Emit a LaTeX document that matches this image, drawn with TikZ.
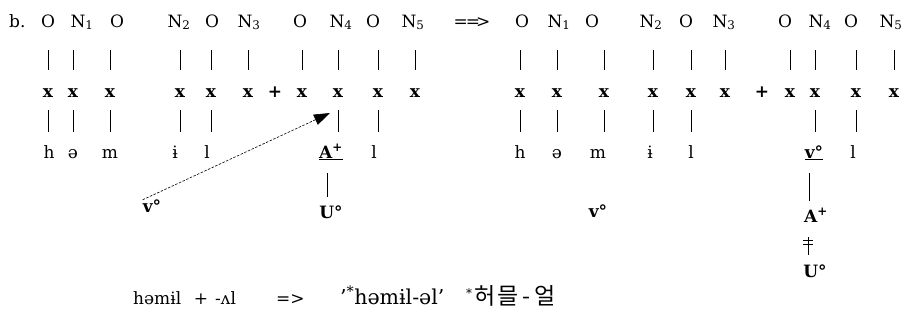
\documentclass[tikz,border=0pt]{standalone}
\usepackage{fontspec}
\setmainfont{DejaVu Serif}
\newfontfamily\krfont{Noto Sans CJK KR}
\usetikzlibrary{arrows.meta,decorations.markings}
\newcommand{\tsize}{\fontsize{17}{21}\selectfont}
\tikzset{
  skel/.style  ={inner sep=0pt, anchor=base, text height=12pt, text depth=0pt},
  slot/.style  ={inner sep=0pt, anchor=base, text height=8pt, text depth=0pt, font=\tsize\bfseries},
  seg/.style   ={inner sep=0pt, anchor=base, text height=12pt, text depth=0pt},
  elem/.style  ={seg, font=\tsize\bfseries},
  ubar/.style  ={line width=0.9pt, shorten <=23pt, shorten >=19pt},
  lbar/.style  ={line width=0.9pt, shorten <=13pt, shorten >=14pt},
  mbar/.style  ={line width=0.9pt, shorten <=15pt, shorten >=9pt},
  spread/.style={-{Triangle[length=16pt,width=11pt]}, line width=0.6pt,
                 dash pattern=on 2.5pt off 1.5pt},
  delink/.style={line width=0.9pt, postaction=decorate,
                 decoration={markings,
                   mark=at position 3.5pt with {\draw[line width=0.8pt] (0,-5pt) -- (0,5pt);},
                   mark=at position 7.5pt with {\draw[line width=0.8pt] (0,-5pt) -- (0,5pt);}}},
}

\begin{document}
\begin{tikzpicture}[x=1pt, y=-1pt, font=\tsize]
\useasboundingbox (0,0) rectangle (907,322);

% left representation
\node[anchor=base west, inner sep=0pt] (lbl) at (9,27) {b.};
\node[skel] (ls1) at (48,27) {O};
\node[skel] (ls2) at (82,27) {N\textsubscript{1}};
\node[skel] (ls3) at (117,27) {O};
\node[skel] (ls4) at (179,27) {N\textsubscript{2}};
\node[skel] (ls5) at (212,27) {O};
\node[skel] (ls6) at (249,27) {N\textsubscript{3}};
\node[skel] (ls7) at (300,27) {O};
\node[skel] (ls8) at (341,27) {N\textsubscript{4}};
\node[skel] (ls9) at (373,27) {O};
\node[skel] (ls10) at (413,27) {N\textsubscript{5}};

\node[slot] (lx1) at (48,97) {x};
\node[slot] (lx2) at (73,97) {x};
\node[slot] (lx3) at (110,97) {x};
\node[slot] (lx4) at (180,97) {x};
\node[slot] (lx5) at (211,97) {x};
\node[slot] (lx6) at (248,97) {x};
\node[slot] (lplus) at (275,97) {+};
\node[slot] (lx7) at (302,97) {x};
\node[slot] (lx8) at (338,97) {x};
\node[slot] (lx9) at (378,97) {x};
\node[slot] (lx10) at (415,97) {x};

\node[seg] (lh) at (49,158) {h};
\node[seg] (le) at (73,158) {ə};
\node[seg] (lm) at (110,158) {m};
\node[seg] (li) at (175,158) {ɨ};
\node[seg] (ll) at (207,158) {l};
\node[elem] (lA) at (331,158) {\underline{A\textsuperscript{+}}};
\node[seg] (lL) at (374,158) {l};

\node[elem] (lv) at (152,212) {v°};
\node[elem] (lU) at (331,218) {U°};

% right representation
\node[skel] (arr) at (472,27) {=\kern-2pt=\kern-4pt>};

\node[skel] (rs1) at (522,27) {O};
\node[skel] (rs2) at (559,27) {N\textsubscript{1}};
\node[skel] (rs3) at (592,27) {O};
\node[skel] (rs4) at (651,27) {N\textsubscript{2}};
\node[skel] (rs5) at (686,27) {O};
\node[skel] (rs6) at (724,27) {N\textsubscript{3}};
\node[skel] (rs7) at (785,27) {O};
\node[skel] (rs8) at (820,27) {N\textsubscript{4}};
\node[skel] (rs9) at (851,27) {O};
\node[skel] (rs10) at (891,27) {N\textsubscript{5}};

\node[slot] (rx1) at (520,97) {x};
\node[slot] (rx2) at (557,97) {x};
\node[slot] (rx3) at (604,97) {x};
\node[slot] (rx4) at (653,97) {x};
\node[slot] (rx5) at (691,97) {x};
\node[slot] (rx6) at (725,97) {x};
\node[slot] (rplus) at (762,97) {+};
\node[slot] (rx7) at (790,97) {x};
\node[slot] (rx8) at (815,97) {x};
\node[slot] (rx9) at (856,97) {x};
\node[slot] (rx10) at (894,97) {x};

\node[seg] (rh) at (520,158) {h};
\node[seg] (re) at (557,158) {ə};
\node[seg] (rm) at (598,158) {m};
\node[seg] (ri) at (650,158) {ɨ};
\node[seg] (rl) at (691,158) {l};
\node[elem] (rv) at (814,158) {\underline{v°}};
\node[seg] (rL) at (853,158) {l};

\node[elem] (rvm) at (598,217) {v°};
\node[elem] (rA) at (816,222) {A\textsuperscript{+}};
\node[elem] (rU) at (815,277) {U°};

% association lines
\foreach \i in {1,...,10} {
  \draw[ubar] (lx\i |- ls\i.south) -- (lx\i.north);
  \draw[ubar] (rx\i |- rs\i.south) -- (rx\i.north);
}
\foreach \c/\s in {1/lh,2/le,3/lm,4/li,5/ll,8/lA,9/lL} {
  \draw[lbar] (lx\c.south) -- (lx\c |- \s.north);
}
\foreach \c/\s in {1/rh,2/re,3/rm,4/ri,5/rl,8/rv,9/rL} {
  \draw[lbar] (rx\c.south) -- (rx\c |- \s.north);
}

\draw[mbar] ([xshift=8pt]lA.south west) -- ([xshift=8pt]lA.south west |- lU.north);
\draw[mbar] ([xshift=5pt]rv.south west) -- ([xshift=5pt]rv.south west |- rA.north);

\coordinate (dtop) at ([xshift=4pt,yshift=-15pt]rA.south west);
\coordinate (dbot) at (dtop |- rU.north);
\draw[delink] (dtop) -- ([yshift=10pt]dbot);

\coordinate (tipA) at (330,113);
\draw[spread] (lv.north west) -- (tipA);

% bottom line
\node[anchor=base west, inner sep=0pt] (bstem) at (133,304) {həmɨl};
\node[anchor=base, inner sep=0pt] (bplus) at (201,304) {+};
\node[anchor=base west, inner sep=0pt] (bsuf) at (215,304) {-ʌl};
\node[anchor=base west, inner sep=0pt] (barr) at (276,304) {=>};
\node[anchor=base west, inner sep=0pt, font=\fontsize{20.5}{24}\selectfont] (bform) at (340,304)
  {’\textsuperscript{*}həmɨl-əl’};
\node[anchor=base west, inner sep=0pt] (bkor) at (466,304)
  {\textsuperscript{*}{\krfont\fontsize{23}{26}\selectfont\kern2pt 허\kern2pt 믈\kern4pt-\kern4pt 얼}};

\end{tikzpicture}
\end{document}
